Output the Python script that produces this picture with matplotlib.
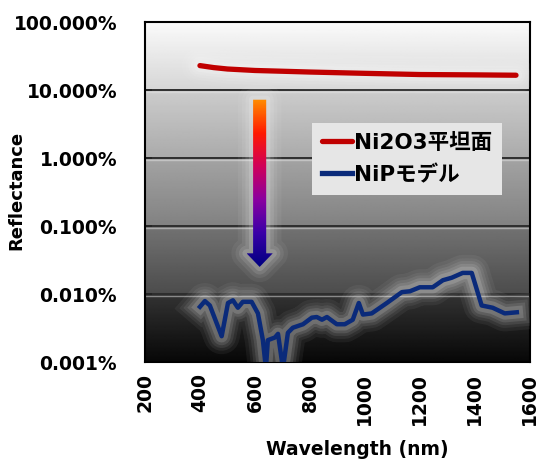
import numpy as np
import matplotlib
matplotlib.use('Agg')
from matplotlib import pyplot as plt
from matplotlib import patheffects as pe
from matplotlib.patches import Polygon
from matplotlib.colors import LinearSegmentedColormap
from matplotlib.ticker import FixedLocator, FuncFormatter

plt.rcParams['font.family'] = ['DejaVu Sans', 'Noto Sans CJK JP']

# Ni2O3 flat surface (reflectance, %)
wl_flat = [400, 450, 500, 600, 700, 800, 1000, 1200, 1400, 1550]
r_flat = [23.0, 21.5, 20.5, 19.5, 19.0, 18.5, 17.7, 17.0, 16.8, 16.6]

# NiP model (reflectance, %)
wl_nip = [400, 418, 436, 479, 502, 520, 538, 556, 588, 611, 629, 640, 647, 673,
          684, 702, 720, 738, 775, 807, 825, 844, 862, 898, 927, 956, 978, 993,
          1025, 1080, 1135, 1164, 1200, 1247, 1284, 1316, 1356, 1389, 1425,
          1465, 1509, 1553]
r_nip = [0.0065, 0.0079, 0.0068, 0.0024, 0.0074, 0.0081, 0.0063, 0.0077, 0.0077,
         0.0052, 0.0021, 0.0008, 0.0021, 0.0023, 0.0026, 0.0008, 0.0027, 0.0032,
         0.0036, 0.0045, 0.0046, 0.0042, 0.0046, 0.0036, 0.0036, 0.0042, 0.0074,
         0.0050, 0.0052, 0.0074, 0.0107, 0.0110, 0.0126, 0.0126, 0.0160, 0.0174,
         0.0205, 0.0205, 0.0068, 0.0063, 0.0052, 0.0054]

names = ['Ni2O3平坦面', 'NiPモデル']
y_ticks = [0.001, 0.01, 0.1, 1, 10, 100]
x_ticks = [200, 400, 600, 800, 1000, 1200, 1400, 1600]

fig = plt.figure(figsize=(5.4, 4.63), dpi=100)
ax = fig.add_axes([0.2685, 0.218, 0.7125, 0.734])
ax.set_yscale('log')
ax.set_xlim(200, 1600)
ax.set_ylim(0.001, 100)

# banded grey background, light at the top, black at the bottom
band_top = [0.98, 0.80, 0.64, 0.45, 0.20]
band_bot = [0.84, 0.67, 0.51, 0.30, 0.03]
bg = np.concatenate([np.linspace(t, b, 60) for t, b in zip(band_top, band_bot)])
ax.imshow(bg.reshape(-1, 1), cmap='gray', vmin=0, vmax=1, aspect='auto',
          extent=[0, 1, 0, 1], transform=ax.transAxes, zorder=0,
          interpolation='bilinear')

for yv in y_ticks[1:-1]:
    ax.axhline(yv, color='#2e2e2e', lw=1.4, zorder=1)
    ax.axhline(yv * 0.93, color='#e4e4e4', lw=1.0, alpha=0.5, zorder=1)

glow = [pe.Stroke(linewidth=lw, foreground='white', alpha=a)
        for lw, a in [(26, 0.05), (21, 0.06), (17, 0.08), (13, 0.1), (9, 0.14)]]
glow.append(pe.Normal())

ax.plot(wl_flat, r_flat, color='#c00000', lw=3.8, solid_capstyle='round',
        label=names[0], zorder=4, path_effects=glow)
ax.plot(wl_nip, r_nip, color='#0a2a7a', lw=3.2, label=names[1], zorder=4,
        path_effects=glow)

# gradient arrow (axes fraction coords)
cx, w, hw = 0.298, 0.017, 0.034
y_top, y_neck, y_tip = 0.772, 0.32, 0.28
arrow = [(cx - w, y_top), (cx + w, y_top), (cx + w, y_neck), (cx + hw, y_neck),
         (cx, y_tip), (cx - hw, y_neck), (cx - w, y_neck)]
for lw, a in [(22, 0.05), (16, 0.07), (11, 0.1), (6, 0.14)]:
    ax.add_patch(Polygon(arrow, closed=True, transform=ax.transAxes,
                         facecolor='none', edgecolor='white', lw=lw, alpha=a,
                         zorder=3, joinstyle='round'))
clip = Polygon(arrow, closed=True, transform=ax.transAxes, facecolor='none',
               edgecolor='none')
ax.add_patch(clip)
acmap = LinearSegmentedColormap.from_list(
    'arr', ['#ff8c00', '#ff1a00', '#d0005a', '#8a00a0', '#3a00a8', '#000080'])
grad = np.linspace(0, 1, 200).reshape(-1, 1)
im = ax.imshow(grad, cmap=acmap, aspect='auto', origin='upper',
               extent=[cx - hw, cx + hw, y_tip, y_top], transform=ax.transAxes,
               zorder=3.5, interpolation='bilinear')
im.set_clip_path(clip)

ax.set_xlim(200, 1600)
ax.set_ylim(0.001, 100)

ax.yaxis.set_major_locator(FixedLocator(y_ticks))
ax.yaxis.set_minor_locator(FixedLocator([]))
ax.yaxis.set_major_formatter(FuncFormatter(lambda v, p: '%.3f%%' % v))
ax.set_xticks(x_ticks)
ax.tick_params(axis='y', direction='in', length=5, width=1.2, labelsize=13.5,
               pad=20, color='#222222')
ax.tick_params(axis='x', direction='in', length=0, labelsize=13.5,
               labelrotation=90, pad=8)
for lab in ax.get_xticklabels() + ax.get_yticklabels():
    lab.set_fontweight('bold')
for s in ax.spines.values():
    s.set_linewidth(1.5)
    s.set_color('black')

ax.set_ylabel('Reflectance', fontsize=13, fontweight='bold')
ax.yaxis.set_label_coords(-0.31, 0.506)
ax.set_xlabel('Wavelength (nm)', fontsize=13.5, fontweight='bold')
ax.xaxis.set_label_coords(0.553, -0.228)

leg = ax.legend(loc='upper left', bbox_to_anchor=(0.434, 0.703), fontsize=15.5,
                frameon=True, fancybox=False, handlelength=1.4, handletextpad=0.1,
                borderpad=0.45, labelspacing=0.55, borderaxespad=0)
leg.get_frame().set_facecolor('#e6e6e6')
leg.get_frame().set_edgecolor('none')
leg.get_frame().set_alpha(1)
for t in leg.get_texts():
    t.set_fontweight('bold')
for h in leg.get_lines():
    h.set_linewidth(3.8)
    h.set_path_effects([])

fig.savefig('out.png', dpi=100)
